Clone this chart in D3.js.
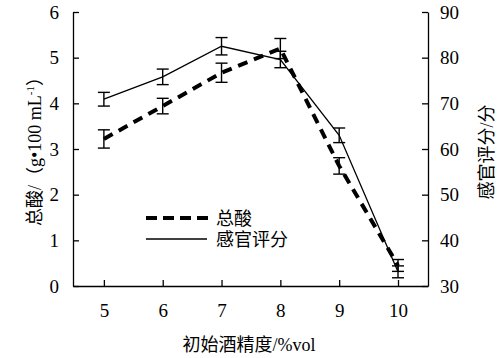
<!DOCTYPE html>
<html><head><meta charset="utf-8">
<script src="https://cdn.jsdelivr.net/npm/d3@7"></script>
<style>body{margin:0;background:#fff}svg{display:block}</style>
</head><body>
<script>
const alcohol = [5, 6, 7, 8, 9, 10];
const acid = [3.22, 3.94, 4.67, 5.2, 2.63, 0.45];
const acidErr = [0.2, 0.17, 0.21, 0.22, 0.18, 0.13];
const sensory = [70.9, 75.8, 82.5, 79.6, 63.0, 33.1];
const sensoryErr = [1.5, 1.7, 1.9, 1.8, 1.6, 1.3];
const leftTicks = [0, 1, 2, 3, 4, 5, 6];
const rightTicks = [30, 40, 50, 60, 70, 80, 90];

const W = 499, H = 358;
const svg = d3.select("body").append("svg").attr("width", W).attr("height", H);
const serif = "'Liberation Serif','Times New Roman',serif";
const cjk = "'Liberation Serif','Noto Sans CJK SC',serif";
const fmt = d3.format("d");

const x = d3.scaleLinear().domain([4.475, 10.51]).range([73, 428]);
const yL = d3.scaleLinear().domain([0, 6]).range([286, 12]);
const yR = d3.scaleLinear().domain([30, 90]).range([286, 12]);

// axes
const gL = svg.append("g").attr("transform", "translate(73,0)")
  .call(d3.axisLeft(yL).tickValues(leftTicks).tickFormat(fmt).tickSizeInner(-6).tickSizeOuter(0).tickPadding(14));
const gR = svg.append("g").attr("transform", "translate(428,0)")
  .call(d3.axisRight(yR).tickValues(rightTicks).tickFormat(fmt).tickSizeInner(-6).tickSizeOuter(0).tickPadding(12));
const gB = svg.append("g").attr("transform", "translate(0,286)")
  .call(d3.axisBottom(x).tickValues(alcohol).tickFormat(fmt).tickSizeInner(-6).tickSizeOuter(0).tickPadding(14));
[gL, gR, gB].forEach(g => {
  g.selectAll("path,line").attr("stroke", "#000").attr("stroke-width", 1.3);
  g.selectAll("text").attr("font-family", serif).attr("font-size", 19).attr("fill", "#000");
});
gB.selectAll("text").attr("dy", "0.9em");

// lines
const lineA = d3.line().x((d, i) => x(alcohol[i])).y(d => yL(d));
const lineS = d3.line().x((d, i) => x(alcohol[i])).y(d => yR(d));
svg.append("path").attr("d", lineS(sensory)).attr("fill", "none").attr("stroke", "#000").attr("stroke-width", 1.3);
svg.append("path").attr("d", lineA(acid)).attr("fill", "none").attr("stroke", "#000")
  .attr("stroke-width", 4).attr("stroke-dasharray", "10,7");

// error bars
function errBars(vals, errs, y) {
  const g = svg.append("g").attr("stroke", "#000").attr("stroke-width", 1.4);
  vals.forEach((v, i) => {
    const cx = x(alcohol[i]), t = y(v + errs[i]), b = y(v - errs[i]);
    g.append("line").attr("x1", cx).attr("x2", cx).attr("y1", t).attr("y2", b);
    g.append("line").attr("x1", cx - 6).attr("x2", cx + 6).attr("y1", t).attr("y2", t);
    g.append("line").attr("x1", cx - 6).attr("x2", cx + 6).attr("y1", b).attr("y2", b);
  });
}
errBars(acid, acidErr, yL);
errBars(sensory, sensoryErr, yR);

// legend
svg.append("line").attr("x1", 146).attr("x2", 212).attr("y1", 218).attr("y2", 218)
  .attr("stroke", "#000").attr("stroke-width", 4).attr("stroke-dasharray", "11,6");
svg.append("line").attr("x1", 146).attr("x2", 207).attr("y1", 239).attr("y2", 239)
  .attr("stroke", "#000").attr("stroke-width", 1.3);
svg.append("text").attr("x", 216).attr("y", 225).attr("font-family", cjk).attr("font-size", 18).text("总酸");
svg.append("text").attr("x", 216).attr("y", 246).attr("font-family", cjk).attr("font-size", 18).text("感官评分");

// axis titles
svg.append("text").attr("x", 249).attr("y", 351).attr("text-anchor", "middle")
  .attr("font-family", cjk).attr("font-size", 18).text("初始酒精度/%vol");
const tl = svg.append("text").attr("transform", "translate(41,147) rotate(-90)").attr("text-anchor", "middle")
  .attr("font-family", cjk).attr("font-size", 18);
tl.append("tspan").text("总酸/（g•100 mL");
tl.append("tspan").attr("font-size", 11).attr("dy", -7).text("-1");
tl.append("tspan").attr("dy", 7).text("）");
svg.append("text").attr("transform", "translate(493,152) rotate(-90)").attr("text-anchor", "middle")
  .attr("font-family", cjk).attr("font-size", 18).text("感官评分/分");
</script>
</body></html>
